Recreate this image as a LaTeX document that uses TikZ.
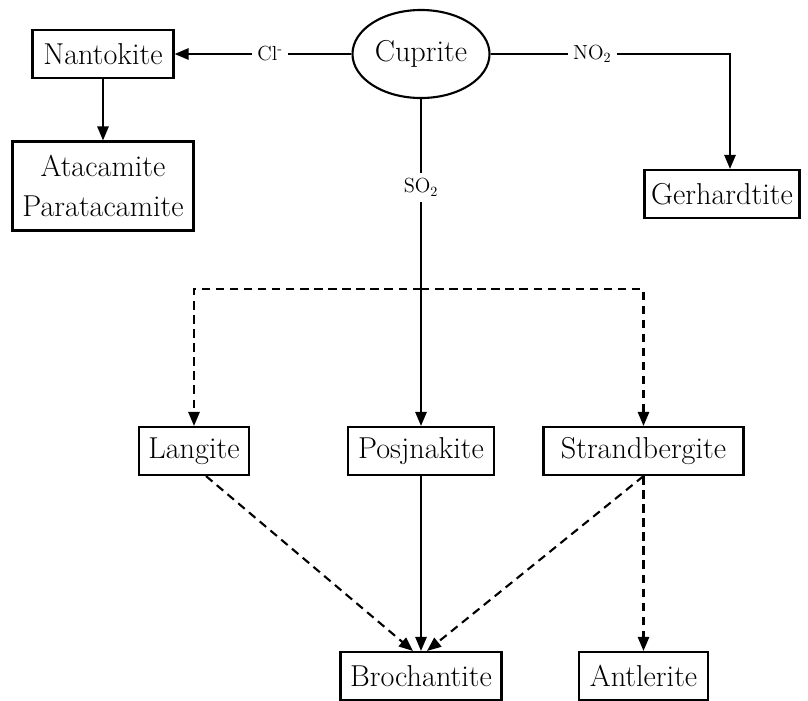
\documentclass[tikz,border=0pt]{standalone}
\usetikzlibrary{arrows.meta,shapes.geometric}
\tikzset{
  mineral/.style={draw, line width=1.5pt, minimum height=1.2cm, inner sep=2pt,
    font=\fontsize{21.5}{29}\selectfont},
  route/.style={line width=1.5pt, -{Triangle[length=10pt,width=8pt]}},
  maybe/.style={route, dash pattern=on 6pt off 4pt},
  agent/.style={fill=white, inner sep=4pt, font=\fontsize{14.5}{16}\selectfont}
}
\begin{document}
\begin{tikzpicture}[x=0.025cm, y=-0.025cm]
    \useasboundingbox (0,0) rectangle (808,700);
    % starting mineral and its direct products
    \node[draw, ellipse, line width=1.5pt, minimum width=3.425cm, minimum height=2.2cm,
      inner sep=0pt, font=\fontsize{21.5}{24}\selectfont] (cup) at (421,54) {Cuprite};
    \node[mineral, minimum width=3.525cm] (nan) at (103,54) {Nantokite};
    \node[mineral, minimum width=4.525cm, minimum height=2.225cm, align=center]
      (ata) at (103,186) {Atacamite\\Paratacamite};
    \node[mineral, minimum width=3.875cm] (ger) at (722,194) {Gerhardtite};
    % sulphate branch
    \node[mineral, minimum width=2.75cm] (lan) at (194,451) {Langite};
    \node[mineral, minimum width=3.65cm] (pos) at (421,451) {Posjnakite};
    \node[mineral, minimum width=5cm] (str) at (643.5,451) {Strandbergite};
    \node[mineral, minimum width=4.025cm] (bro) at (421,676) {Brochantite};
    \node[mineral, minimum width=3.225cm] (ant) at (643.5,676) {Antlerite};
    \coordinate (kink) at (730,54);
    \coordinate (br) at (421,289);
    % solid routes
    \draw[route] (cup.west) -- node[agent, pos=0.46] {Cl\textsuperscript{-}} (nan.east);
    \draw[route] (nan) -- (ata);
    \draw[route] (cup.east) -- node[agent, pos=0.425] {NO$_2$} (kink) -- (kink |- ger.north);
    \draw[maybe] (br) -| (lan.north);
    \draw[maybe] (br) -| (str.north);
    \draw[route] (cup.south) -- node[agent, pos=0.27] {SO$_2$} (pos.north);
    \draw[route] (pos) -- (bro);
    % dashed routes to the end products
    \draw[maybe] ([xshift=0.3cm]lan.south) -- ([xshift=-0.2cm]bro.north);
    \draw[maybe] (str.south) -- ([xshift=0.15cm]bro.north);
    \draw[maybe] (str) -- (ant);
\end{tikzpicture}
\end{document}
